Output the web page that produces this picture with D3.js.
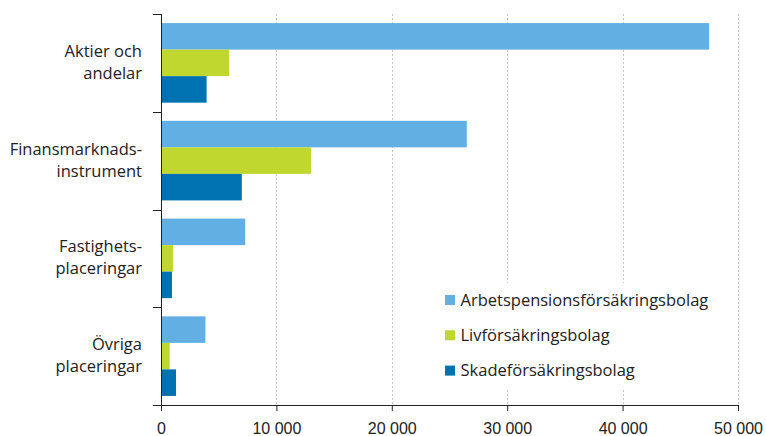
<!DOCTYPE html>
<html>
<head>
<meta charset="utf-8">
<script src="https://cdn.jsdelivr.net/npm/d3@7.9.0/dist/d3.min.js"></script>
<style>
  body { margin: 0; background: #fff; }
  svg { display: block; font-family: "Open Sans", sans-serif; }
  .axis path, .axis line { stroke: #222; }
  .axis text { fill: #222; }
</style>
</head>
<body>
<svg id="chart" width="766" height="436"></svg>
<script>
const categories = [
  ['Aktier och', 'andelar'],
  ['Finansmarknads-', 'instrument'],
  ['Fastighets-', 'placeringar'],
  ['Övriga', 'placeringar']
];
const seriesNames = ['Arbetspensionsförsäkringsbolag', 'Livförsäkringsbolag', 'Skadeförsäkringsbolag'];
const seriesColors = ['#62b0e3', '#bfd72f', '#0071b1'];
const arbetspension = [47500, 26500, 7300, 3850];
const livforsakring = [5900, 13000, 1050, 750];
const skadeforsakring = [3950, 7000, 950, 1300];
const xTicks = [0, 10000, 20000, 30000, 40000, 50000];

const values = [arbetspension, livforsakring, skadeforsakring];
const svg = d3.select('#chart');
const plotLeft = 161, plotRight = 738, plotTop = 14, plotBottom = 405;

const x = d3.scaleLinear().domain([0, 50000]).range([plotLeft, plotRight]);
const y = d3.scaleBand().domain(d3.range(categories.length)).range([plotTop, plotBottom])
  .paddingInner(0.186).paddingOuter(0.093);
const yBand = d3.scaleBand().domain(d3.range(categories.length)).range([plotTop, plotBottom]);
const ySub = d3.scaleBand().domain(d3.range(seriesNames.length)).range([0, y.bandwidth()]);

// gridlines
svg.append('g').selectAll('line')
  .data(xTicks.filter(d => d > 0))
  .join('line')
  .attr('x1', d => Math.round(x(d)) + 0.5).attr('x2', d => Math.round(x(d)) + 0.5)
  .attr('y1', plotTop).attr('y2', plotBottom)
  .attr('stroke', '#c6c6c6').attr('stroke-dasharray', '2,2');

// bars
const groups = svg.append('g').selectAll('g')
  .data(categories.map((c, i) => i))
  .join('g')
  .attr('transform', i => `translate(0,${y(i)})`);
groups.selectAll('rect')
  .data(i => values.map((s, k) => ({ k, v: s[i] })))
  .join('rect')
  .attr('x', x(0))
  .attr('y', d => ySub(d.k))
  .attr('width', d => x(d.v) - x(0))
  .attr('height', ySub.bandwidth())
  .attr('fill', d => seriesColors[d.k]);

// legend box (white, hides gridlines)
const legend = svg.append('g');
legend.append('rect')
  .attr('x', 430).attr('y', 283).attr('width', 300).attr('height', 107)
  .attr('fill', '#fff');
const items = legend.selectAll('g.item')
  .data(seriesNames)
  .join('g')
  .attr('class', 'item')
  .attr('transform', (d, i) => `translate(445,${300 + i * 35.3})`);
items.append('rect')
  .attr('x', 0).attr('y', -5).attr('width', 10).attr('height', 10)
  .attr('fill', (d, i) => seriesColors[i]);
items.append('text')
  .attr('x', 15.5).attr('dy', '0.35em')
  .style('font-size', '16.5px').attr('fill', '#222')
  .text(d => d);

// x axis
svg.append('g')
  .attr('class', 'axis')
  .attr('transform', `translate(0,${plotBottom})`)
  .call(d3.axisBottom(x).tickValues(xTicks).tickSize(6).tickSizeOuter(0)
    .tickFormat(d => d3.format(',')(d).replace(/,/g, ' ')))
  .call(g => g.selectAll('text').attr('y', 29).attr('dy', 0).style('font-size', '16px'));

// y axis
const yAxis = svg.append('g').attr('class', 'axis');
yAxis.append('line')
  .attr('x1', plotLeft + 0.5).attr('x2', plotLeft + 0.5)
  .attr('y1', plotTop).attr('y2', plotBottom + 6);
yAxis.selectAll('line.tick')
  .data(d3.range(categories.length + 1))
  .join('line')
  .attr('class', 'tick')
  .attr('x1', plotLeft - 8).attr('x2', plotLeft + 0.5)
  .attr('y1', i => Math.round(plotTop + i * yBand.step()) + 0.5)
  .attr('y2', i => Math.round(plotTop + i * yBand.step()) + 0.5);
yAxis.selectAll('text')
  .data(categories)
  .join('text')
  .attr('text-anchor', 'end')
  .style('font-size', '16.5px')
  .attr('transform', (d, i) => `translate(142,${yBand(i) + yBand.bandwidth() / 2 - 6})`)
  .selectAll('tspan')
  .data(d => d)
  .join('tspan')
  .attr('x', 0)
  .attr('y', (d, j) => j * 22)
  .text(d => d);
</script>
</body>
</html>
